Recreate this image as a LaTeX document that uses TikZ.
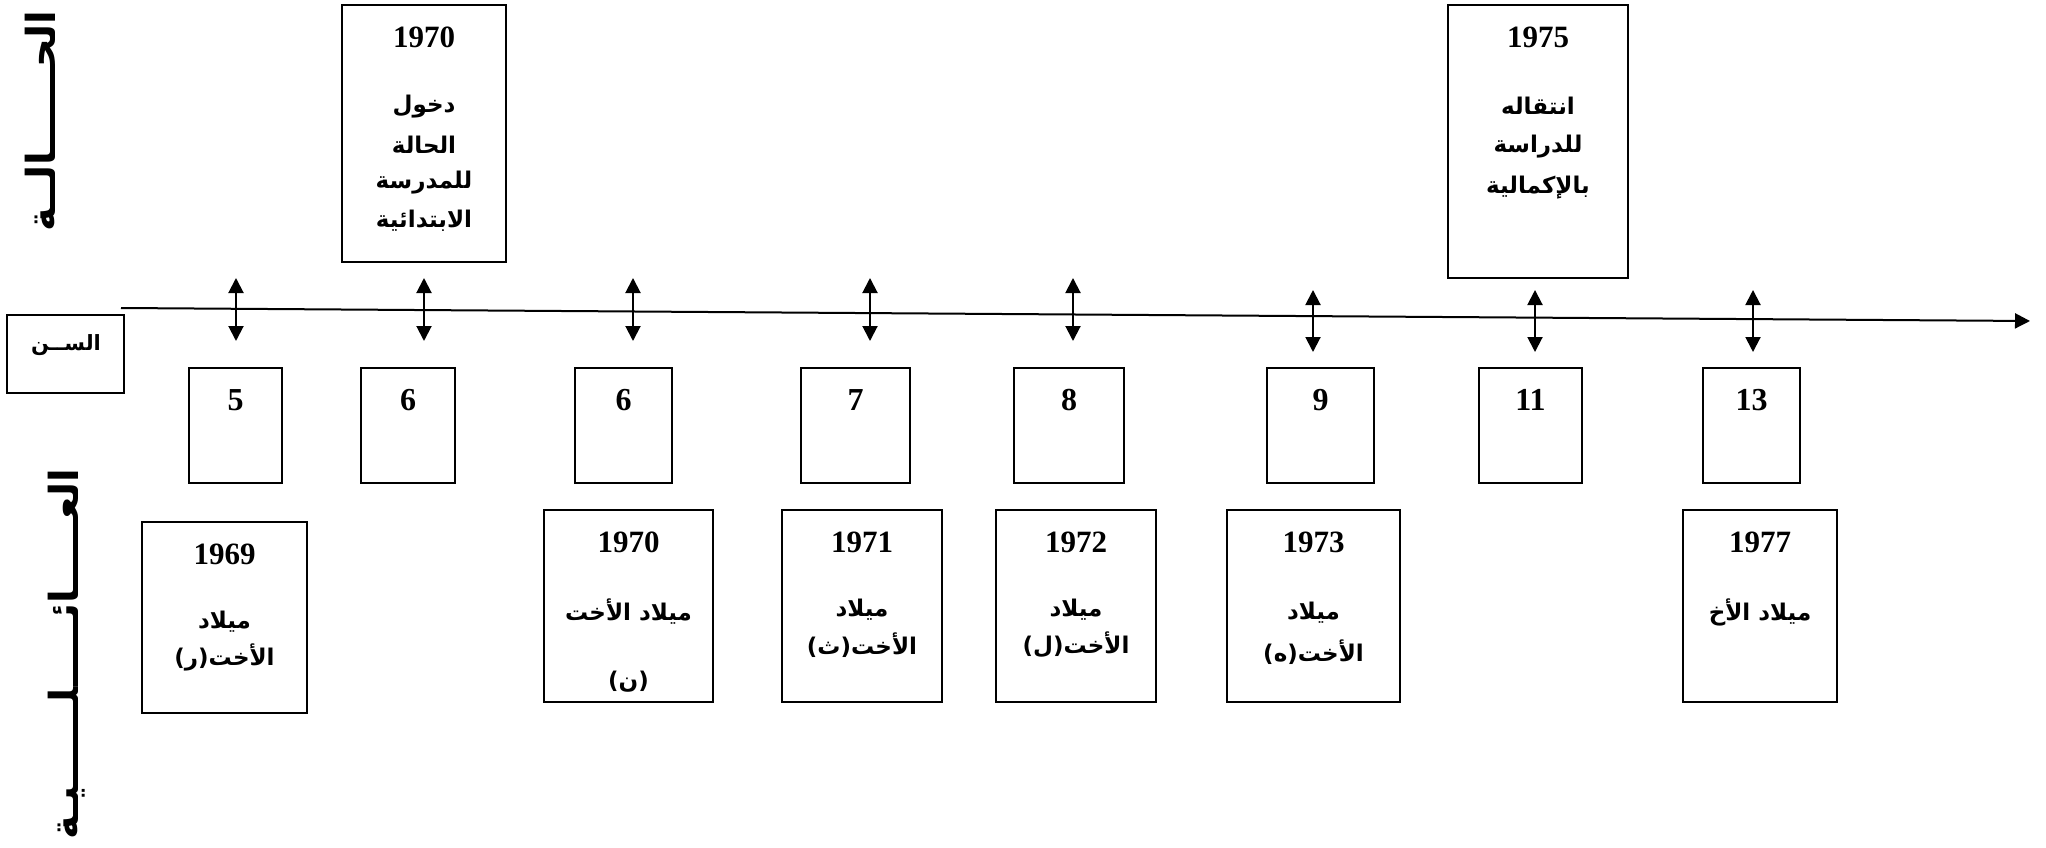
\documentclass[tikz,border=0pt]{standalone}
\usepackage{fontspec}
\setmainfont{Liberation Serif}
\newfontfamily\arabicfont[Script=Arabic]{DejaVu Sans}
\TeXXeTstate=1
\usetikzlibrary{arrows.meta}

\begin{document}
\begin{tikzpicture}[x=1pt,y=-1pt,
  frame/.style n args={2}{draw, line width=1.8pt, inner sep=0pt,
    minimum width=#1pt, minimum height=#2pt},
  year/.style={inner sep=0pt, font=\bfseries\fontsize{31}{33}\selectfont},
  age/.style={inner sep=0pt, font=\bfseries\fontsize{32}{34}\selectfont},
  ar/.style={inner sep=0pt, font=\arabicfont\bfseries\fontsize{23}{27}\selectfont},
  side/.style={inner sep=0pt, rotate=90, font=\arabicfont\bfseries\fontsize{40}{44}\selectfont},
  tip/.style={line width=2pt, {Triangle[length=15pt,width=15pt]}-{Triangle[length=15pt,width=15pt]}}
]
\useasboundingbox (0,0) rectangle (2046,848);

% side titles
\node[side] (tcase) at (40,121) {\beginR الحــــــالــة\endR};
\node[side] (tfam) at (67,654) {\beginR العـــــائـــــلــــــيـة\endR};

% age label
\node[frame={117}{78}] (agebox) at (65.5,354) {};
\node[ar, font=\arabicfont\bfseries\fontsize{21}{25}\selectfont] (agelbl) at (66,345) {\beginR الســن\endR};

% time axis
\coordinate (ax0) at (121,308);
\coordinate (ax1) at (2030,321);
\draw[line width=2pt, -{Triangle[length=15pt,width=15pt]}] (ax0) -- (ax1);

% markers on the axis
\foreach \i/\x/\ya/\yb in {1/236/278/341, 2/424/278/341, 3/633/278/341, 4/870/278/341,
    5/1073/278/341, 6/1313/290/352, 7/1535/290/352, 8/1753/290/352} {
  \coordinate (m\i t) at (\x,\ya);
  \coordinate (m\i b) at (\x,\yb);
  \draw[tip] (m\i t) -- (m\i b);
}

% upper events
\node[frame={164}{257}] (up1) at (424,133.5) {};
\node[year] (up1y) at (424,37) {1970};
\node[ar] (up1a) at (424,107) {\beginR دخول\endR};
\node[ar] (up1b) at (424,145) {\beginR الحالة\endR};
\node[ar] (up1c) at (424,183) {\beginR للمدرسة\endR};
\node[ar] (up1d) at (424,221) {\beginR الابتدائية\endR};

\node[frame={180}{273}] (up2) at (1538,141.5) {};
\node[year] (up2y) at (1538,37) {1975};
\node[ar] (up2a) at (1538,106) {\beginR انتقاله\endR};
\node[ar] (up2b) at (1538,147) {\beginR للدراسة\endR};
\node[ar] (up2c) at (1538,188) {\beginR بالإكمالية\endR};

% ages
\foreach \i/\x/\w/\n in {1/235.5/93/5, 2/408/94/6, 3/623.5/97/6, 4/855.5/109/7,
    5/1069/110/8, 6/1320.5/107/9, 7/1530.5/103/11, 8/1751.5/97/13} {
  \node[frame={\w}{115}] (age\i) at (\x,425.5) {};
  \node[age] (agen\i) at (\x,400) {\n};
}

% lower events
\node[frame={165}{191}] (lo1) at (224.5,617.5) {};
\node[year] (lo1y) at (224.5,554) {1969};
\node[ar] (lo1a) at (224.5,622) {\beginR ميلاد\endR};
\node[ar] (lo1b) at (224.5,657) {\beginR الأخت(ر)\endR};

\node[frame={169}{192}] (lo2) at (628.5,606) {};
\node[year] (lo2y) at (628.5,542) {1970};
\node[ar] (lo2a) at (628.5,612) {\beginR ميلاد الأخت\endR};
\node[ar] (lo2b) at (628.5,682) {\beginR (ن)\endR};

\node[frame={160}{192}] (lo3) at (862,606) {};
\node[year] (lo3y) at (862,542) {1971};
\node[ar] (lo3a) at (862,610) {\beginR ميلاد\endR};
\node[ar] (lo3b) at (862,645) {\beginR الأخت(ث)\endR};

\node[frame={160}{192}] (lo4) at (1076,606) {};
\node[year] (lo4y) at (1076,542) {1972};
\node[ar] (lo4a) at (1076,610) {\beginR ميلاد\endR};
\node[ar] (lo4b) at (1076,645) {\beginR الأخت(ل)\endR};

\node[frame={173}{192}] (lo5) at (1313.5,606) {};
\node[year] (lo5y) at (1313.5,542) {1973};
\node[ar] (lo5a) at (1313.5,613) {\beginR ميلاد\endR};
\node[ar] (lo5b) at (1313.5,652) {\beginR الأخت(ه)\endR};

\node[frame={154}{192}] (lo6) at (1760,606) {};
\node[year] (lo6y) at (1760,542) {1977};
\node[ar] (lo6a) at (1760,612) {\beginR ميلاد الأخ\endR};
\end{tikzpicture}
\end{document}
